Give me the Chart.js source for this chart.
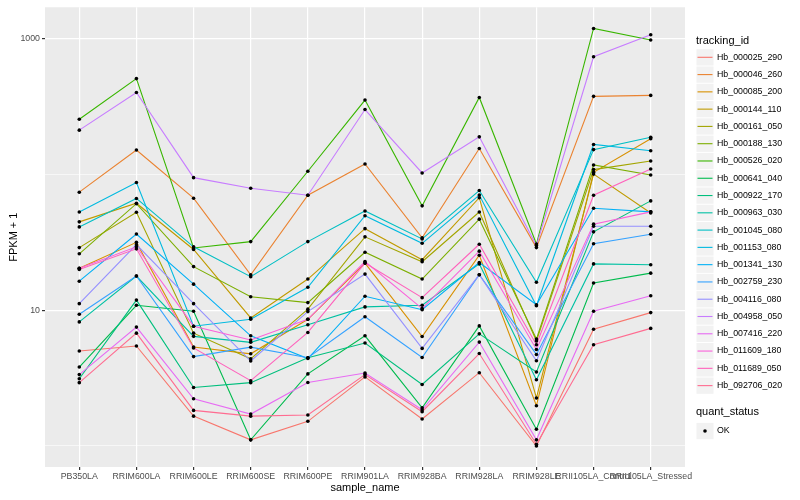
<!DOCTYPE html>
<html>
<head>
<meta charset="utf-8">
<script src="https://cdn.jsdelivr.net/npm/chart.js@4.4.0/dist/chart.umd.min.js"></script>
<style>
  html, body { margin: 0; padding: 0; background: #fff; }
  #wrap { width: 800px; height: 500px; }
</style>
</head>
<body>
<div id="wrap"><canvas id="chart" width="800" height="500"></canvas></div>
<script>
const FONT = '"Liberation Sans", Arial, Helvetica, sans-serif';

// x categories
const sampleNames = [
  "PB350LA", "RRIM600LA", "RRIM600LE", "RRIM600SE", "RRIM600PE", "RRIM901LA",
  "RRIM928BA", "RRIM928LA", "RRIM928LE", "RRII105LA_Control", "RRII105LA_Stressed",
];

const trackingIds = [
  "Hb_000025_290", "Hb_000046_260", "Hb_000085_200", "Hb_000144_110", "Hb_000161_050",
  "Hb_000188_130", "Hb_000526_020", "Hb_000641_040", "Hb_000922_170", "Hb_000963_030",
  "Hb_001045_080", "Hb_001153_080", "Hb_001341_130", "Hb_002759_230", "Hb_004116_080",
  "Hb_004958_050", "Hb_007416_220", "Hb_011609_180", "Hb_011689_050", "Hb_092706_020",
];

// ggplot hue palette, 20 levels
const seriesColors = [
  "#F8766D", "#EA8331", "#D89000", "#C09B00", "#A3A500",
  "#7CAE00", "#39B600", "#00BB4E", "#00BF7D", "#00C1A3",
  "#00BFC4", "#00BAE0", "#00B0F6", "#35A2FF", "#9590FF",
  "#C77CFF", "#E76BF3", "#FA62DB", "#FF62BC", "#FF6C91",
];

// FPKM + 1 per sample
const hb000025_290 = [5.02, 5.46, 1.66, 1.11, 1.52, 3.23, 1.58, 3.47, 1.00, 7.26, 9.62];
const hb000046_260 = [74.3, 152, 67.1, 18.3, 70.6, 120, 34.3, 156, 29.0, 378, 384];
const hb000085_200 = [20.4, 31.7, 5.37, 4.78, 8.59, 22.3, 6.41, 25.5, 1.98, 104, 184];
const hb000144_110 = [44.9, 61.6, 28.1, 8.79, 17.0, 40.0, 23.6, 67.6, 2.26, 101, 52.2];
const hb000161_050 = [29.0, 52.8, 6.79, 4.39, 10.2, 34.8, 22.8, 53.1, 5.94, 109, 126];
const hb000188_130 = [26.1, 61.1, 21.0, 12.6, 11.4, 26.8, 17.0, 47.0, 6.14, 118, 99.5];
const hb000526_020 = [256, 511, 28.8, 32.1, 106, 355, 58.9, 371, 30.8, 1197, 984];
const hb000641_040 = [3.82, 10.9, 9.84, 1.11, 3.40, 6.49, 1.91, 7.68, 1.33, 15.9, 18.8];
const hb000922_170 = [3.13, 11.9, 2.70, 2.93, 4.47, 5.74, 2.84, 6.71, 3.51, 37.9, 64.1];
const hb000963_030 = [8.22, 17.9, 6.43, 5.81, 7.82, 10.6, 10.9, 22.0, 3.08, 22.0, 21.7];
const hb001045_080 = [41.2, 66.8, 29.4, 17.7, 32.1, 54.0, 33.6, 76.4, 16.1, 153, 189];
const hb001153_080 = [53.1, 87.5, 7.64, 8.59, 14.8, 49.8, 31.2, 70.8, 10.8, 167, 150];
const hb001341_130 = [16.4, 36.5, 15.6, 6.49, 4.41, 12.7, 10.1, 22.5, 11.0, 56.5, 53.2];
const hb002759_230 = [9.35, 17.9, 4.56, 5.35, 4.47, 8.97, 4.49, 18.3, 4.73, 31.0, 36.4];
const hb004116_080 = [11.2, 30.5, 11.2, 4.23, 9.79, 18.5, 5.24, 18.3, 4.25, 41.7, 41.7];
const hb004958_050 = [213, 403, 95.1, 79.4, 70.6, 302, 103, 190, 30.0, 740, 1074];
const hb007416_220 = [3.36, 7.52, 2.23, 1.72, 2.94, 3.45, 1.85, 5.83, 1.11, 9.84, 12.8];
const hb011609_180 = [20.4, 29.4, 7.64, 6.04, 8.59, 22.9, 10.3, 27.3, 5.15, 43.2, 53.2];
const hb011689_050 = [20.0, 28.4, 5.28, 3.03, 6.87, 22.3, 12.4, 30.7, 5.58, 70.6, 110];
const hb092706_020 = [2.93, 6.79, 1.83, 1.66, 1.69, 3.36, 1.79, 4.80, 1.03, 5.58, 7.36];

const seriesValues = [
  hb000025_290, hb000046_260, hb000085_200, hb000144_110, hb000161_050,
  hb000188_130, hb000526_020, hb000641_040, hb000922_170, hb000963_030,
  hb001045_080, hb001153_080, hb001341_130, hb002759_230, hb004116_080,
  hb004958_050, hb007416_220, hb011609_180, hb011689_050, hb092706_020,
];

// y axis breaks: labelled majors and unlabelled minors
const yBreaks = [1, 10, 100, 1000];
const yBreakLabels = ["", "10", "", "1000"];
const yMajor = [10, 1000];

const toPoints = (vals) => vals.map((v, i) => ({ x: i, y: v }));

const datasets = seriesValues.map((vals, k) => ({
  label: trackingIds[k],
  data: toPoints(vals),
  borderColor: seriesColors[k],
  borderWidth: 1.1,
  pointRadius: 0,
  fill: false,
  tension: 0,
  order: 100 - k, // first group drawn underneath, like ggplot
}));

// geom_point layer on top of all lines
datasets.push({
  label: "points",
  data: seriesValues.flatMap(toPoints),
  showLine: false,
  pointRadius: 1.8,
  pointBackgroundColor: "#000",
  pointBorderWidth: 0,
  order: -1,
});

const panelBg = {
  id: "panelBg",
  beforeDraw(chart) {
    const { ctx, chartArea: a } = chart;
    ctx.save();
    ctx.fillStyle = "#EBEBEB";
    ctx.fillRect(a.left, a.top, a.right - a.left, a.bottom - a.top);
    ctx.restore();
  },
};

const ggLegend = {
  id: "ggLegend",
  afterDraw(chart) {
    const ctx = chart.ctx;
    ctx.save();
    ctx.textBaseline = "middle";
    ctx.textAlign = "left";
    ctx.fillStyle = "#000";
    ctx.font = "11px " + FONT;
    ctx.fillText("tracking_id", 696, 41);

    trackingIds.forEach((id, i) => {
      const cy = 57.3 + i * 17.28;
      ctx.fillStyle = "#F2F2F2";
      ctx.fillRect(696.5, cy - 8.1, 17, 16.3);
      ctx.strokeStyle = seriesColors[i];
      ctx.lineWidth = 1.1;
      ctx.beginPath();
      ctx.moveTo(697.5, cy);
      ctx.lineTo(712.5, cy);
      ctx.stroke();
      ctx.fillStyle = "#000";
      ctx.font = "8.8px " + FONT;
      ctx.fillText(id, 717, cy);
    });

    ctx.font = "11px " + FONT;
    ctx.fillText("quant_status", 696, 412);
    const oy = 431;
    ctx.fillStyle = "#F2F2F2";
    ctx.fillRect(696.5, oy - 8.1, 17, 16.3);
    ctx.fillStyle = "#000";
    ctx.beginPath();
    ctx.arc(705, oy, 1.8, 0, Math.PI * 2);
    ctx.fill();
    ctx.font = "8.8px " + FONT;
    ctx.fillText("OK", 717, oy);
    ctx.restore();
  },
};

new Chart(document.getElementById("chart"), {
  type: "line",
  data: { datasets },
  options: {
    responsive: false,
    animation: false,
    layout: { padding: { top: 5, right: 115, left: 0, bottom: 0 } },
    plugins: {
      legend: { display: false },
      tooltip: { enabled: false },
    },
    scales: {
      x: {
        type: "linear",
        min: -0.6,
        max: 10.6,
        afterBuildTicks: (s) => { s.ticks = sampleNames.map((_, i) => ({ value: i })); },
        afterFit: (s) => { s.height = 33; },
        border: { display: false },
        grid: { color: "#FFFFFF", lineWidth: 1.2, tickColor: "#333333", tickLength: 3 },
        ticks: {
          autoSkip: false,
          maxRotation: 0,
          padding: 1,
          color: "#4D4D4D",
          font: { family: FONT, size: 8.8 },
          callback: (v) => sampleNames[v] ?? "",
        },
        title: {
          display: true,
          text: "sample_name",
          color: "#000",
          font: { family: FONT, size: 11 },
          padding: { top: 0, bottom: 5 },
        },
      },
      y: {
        type: "logarithmic",
        min: 0.714,
        max: 1714,
        afterBuildTicks: (s) => { s.ticks = yBreaks.map((v) => ({ value: v })); },
        afterFit: (s) => { s.width = 45; },
        border: { display: false },
        grid: {
          color: "#FFFFFF",
          lineWidth: (c) => (c.tick && yMajor.includes(c.tick.value) ? 1.2 : 0.6),
          tickColor: (c) => (c.tick && yMajor.includes(c.tick.value) ? "#333333" : "rgba(0,0,0,0)"),
          tickLength: 3,
        },
        ticks: {
          padding: 2,
          color: "#4D4D4D",
          font: { family: FONT, size: 8.8 },
          callback: (v) => yBreakLabels[yBreaks.indexOf(v)] ?? "",
        },
        title: {
          display: true,
          text: "FPKM + 1",
          color: "#000",
          font: { family: FONT, size: 11 },
          padding: { top: 7, bottom: 0 },
        },
      },
    },
  },
  plugins: [panelBg, ggLegend],
});
</script>
</body>
</html>
